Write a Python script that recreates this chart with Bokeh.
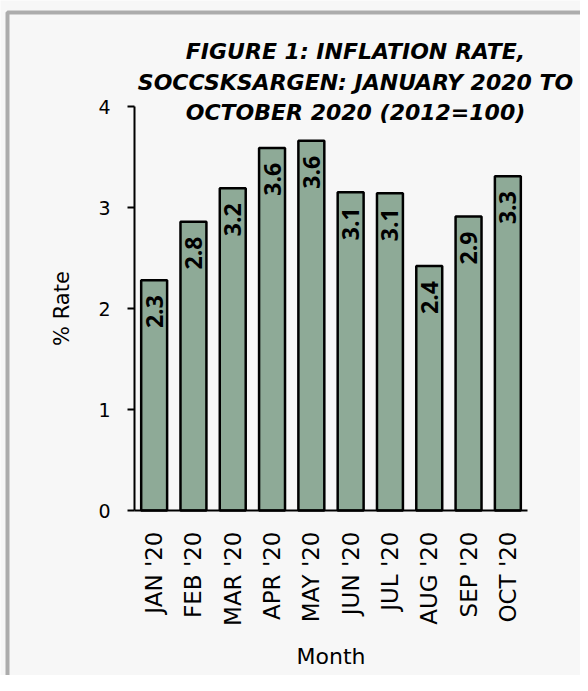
import math
from bokeh.plotting import figure
from bokeh.models import Label, FixedTicker, Range1d, BoxAnnotation
from bokeh.embed import file_html
from bokeh.resources import INLINE
from bokeh.core.properties import value

months = ["JAN '20", "FEB '20", "MAR '20", "APR '20", "MAY '20",
          "JUN '20", "JUL '20", "AUG '20", "SEP '20", "OCT '20"]
rates = [2.28, 2.86, 3.19, 3.59, 3.66, 3.15, 3.14, 2.42, 2.91, 3.31]
rate_labels = ["2.3", "2.8", "3.2", "3.6", "3.6", "3.1", "3.1", "2.4", "2.9", "3.3"]
y_ticks = [0, 1, 2, 3, 4]
title_lines = ["FIGURE 1: INFLATION RATE,",
               "SOCCSKSARGEN: JANUARY 2020 TO",
               "OCTOBER 2020 (2012=100)"]

BG = "#f7f7f7"
FONT = "DejaVu Sans"

# canvas geometry (pixels) -> the whole canvas is the plot frame
W, H = 580, 675
AXIS_X_PX = 134.0   # where the value axis sits
ZERO_Y_PX = 510.0   # where the category axis sits
UNIT_X = 39.3       # px per category
UNIT_Y = 101.0      # px per 1 %

x_start = -0.5 - AXIS_X_PX / UNIT_X
x_end = x_start + W / UNIT_X
y_end = ZERO_Y_PX / UNIT_Y
y_start = y_end - H / UNIT_Y


def xd(px):
    return x_start + px / UNIT_X


def yd(py):
    return y_end - py / UNIT_Y


xs = list(range(len(months)))

p = figure(x_range=Range1d(x_start, x_end), y_range=Range1d(y_start, y_end),
           width=W, height=H,
           output_backend="svg", toolbar_location=None,
           min_border_left=0, min_border_right=0,
           min_border_top=0, min_border_bottom=0)

p.background_fill_color = BG
p.border_fill_color = BG
p.outline_line_color = None
p.xgrid.visible = False
p.ygrid.visible = False

# chart-area frame (left and top edges visible)
p.add_layout(BoxAnnotation(left=xd(7), right=xd(W + 30), top=yd(12), bottom=yd(H + 30),
                           fill_alpha=0, line_color="black", line_width=4))

p.vbar(x=xs, top=rates, width=0.66, fill_color="#8EAA97",
       line_color="black", line_width=2.5)

p.text(x=xs, y=rates, text=rate_labels, angle=math.pi / 2,
       text_align="right", text_baseline="middle", y_offset=15,
       text_font=value("Open Sans"), text_font_style="bold",
       text_font_size="23px", text_color="black")

# x axis
xa = p.xaxis[0]
xa.fixed_location = 0
xa.bounds = (-0.5, len(months) - 0.5)
xa.ticker = FixedTicker(ticks=xs)
xa.major_label_overrides = {i: m for i, m in enumerate(months)}
xa.axis_line_color = "black"
xa.axis_line_width = 2
xa.major_tick_out = 0
xa.major_tick_in = 0
xa.major_tick_line_color = None
xa.minor_tick_line_color = None
xa.major_label_orientation = math.pi / 2
xa.major_label_standoff = 21
xa.major_label_text_font = FONT
xa.major_label_text_font_size = "23px"
xa.major_label_text_color = "black"
xa.axis_label = "Month"
xa.axis_label_text_font = FONT
xa.axis_label_text_font_size = "22px"
xa.axis_label_text_font_style = "normal"
xa.axis_label_text_color = "black"
xa.axis_label_standoff = 15

# y axis
ya = p.yaxis[0]
ya.fixed_location = -0.5
ya.bounds = (0, 4)
ya.ticker = FixedTicker(ticks=y_ticks)
ya.axis_line_color = "black"
ya.axis_line_width = 2
ya.major_tick_out = 7
ya.major_tick_in = 0
ya.major_tick_line_width = 2
ya.major_tick_line_color = "black"
ya.minor_tick_out = 0
ya.minor_tick_in = 0
ya.minor_tick_line_color = None
ya.major_label_standoff = 17
ya.major_label_text_font = FONT
ya.major_label_text_font_size = "19px"
ya.major_label_text_color = "black"
ya.axis_label = "% Rate"
ya.axis_label_text_font = FONT
ya.axis_label_text_font_size = "21px"
ya.axis_label_text_font_style = "normal"
ya.axis_label_text_color = "black"
ya.axis_label_standoff = 21

for line, base_px in zip(title_lines, [51, 82, 112]):
    p.add_layout(Label(x=xd(355), y=yd(base_px), text=line, text_align="center",
                       text_baseline="alphabetic", text_font=FONT,
                       text_font_style="bold italic", text_font_size="22px",
                       text_color="black"))

open("out.html", "w").write(file_html(p, INLINE))
